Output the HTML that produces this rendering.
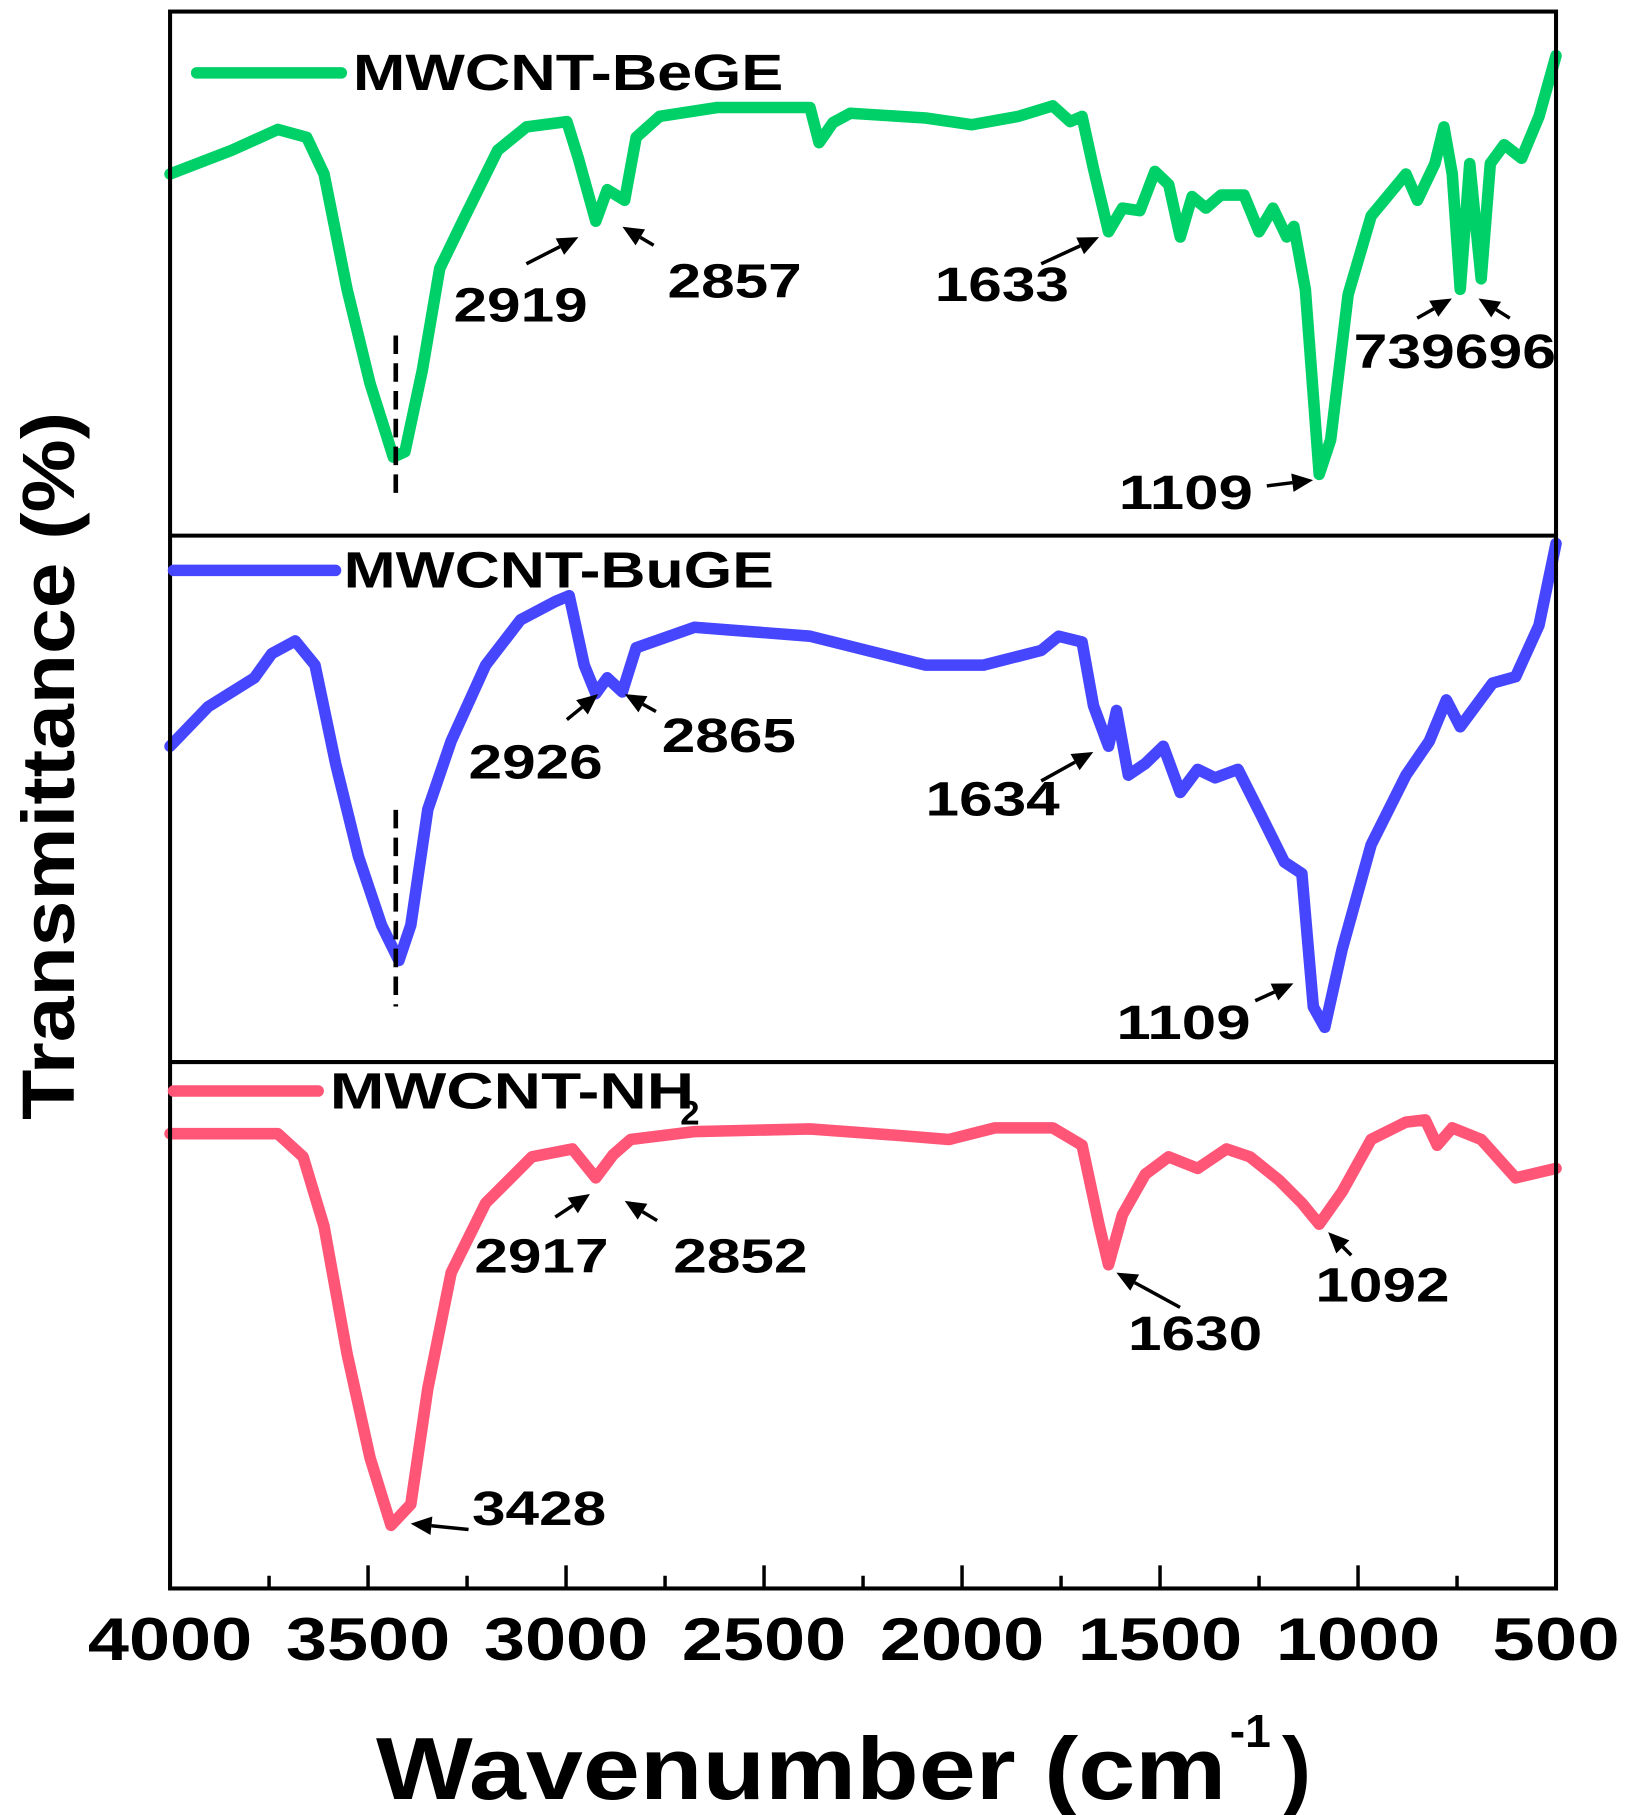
<!DOCTYPE html>
<html><head><meta charset="utf-8"><style>
html,body{margin:0;padding:0;background:#fff}
svg{display:block}
text{font-family:"Liberation Sans",Arial,sans-serif;font-weight:bold;fill:#000}
</style></head><body>
<svg id="chart" width="1631" height="1815" viewBox="0 0 1409.8 1568.8" preserveAspectRatio="none" xmlns="http://www.w3.org/2000/svg">
<g id="plot"></g>
</svg>
<script>
// ---- data ----
const xTicks = [4000,3500,3000,2500,2000,1500,1000,500];
const wBeGE = [4000,3845,3728,3655,3611,3553,3495,3436,3407,3363,3319,3261,3173,3100,2998,2969,2925,2896,2852,2823,2764,2618,2384,2361,2326,2282,2092,1975,1858,1771,1727,1697,1668,1630,1595,1551,1513,1478,1449,1419,1384,1346,1288,1250,1215,1180,1162,1133,1098,1069,1025,967,879,850,806,783,762,742,718,689,666,631,587,543,500];
const tBeGE = [69,73.5,77.5,76,69,47,29,15,16,31.5,51,60,73.5,78,79,72,60,66,64,76,80,81.7,81.7,75,78.8,80.6,79.7,78.4,80,82,79,80,70,58,62.5,62,69.5,67,57,64.7,62.5,65,65,58,62.5,57,59,47,11.7,18.3,46,61,69,64,71,78,69,47,71,49,71,74.6,72,80,91.6];
const wBuGE = [4000,3904,3787,3743,3684,3634,3582,3524,3466,3422,3392,3349,3290,3203,3115,3027,2992,2954,2925,2896,2858,2823,2676,2384,2092,1946,1800,1756,1697,1668,1630,1610,1580,1537,1492,1449,1405,1361,1303,1244,1186,1142,1113,1084,1040,967,879,820,777,742,660,602,543,500];
const tBuGE = [60,67.5,73,77.6,80,75.4,56.7,39,26,19.3,26,48,61,75.4,84,87.5,88.6,75.4,70,73,70.3,78.7,82.6,80.9,75.4,75.4,78.2,80.9,79.8,67.7,60,66.8,54.5,56.7,60,51.2,55.6,54,55.6,46.8,38,35.8,10.5,6.6,21.5,41.3,54.5,61,68.8,63.7,72,73.2,83,98.5];
const wNH2 = [4000,3728,3664,3611,3553,3495,3442,3392,3349,3290,3203,3086,2984,2925,2881,2837,2676,2384,2150,2033,1917,1771,1697,1653,1630,1595,1537,1478,1405,1332,1273,1200,1142,1098,1040,967,879,830,800,762,689,602,500];
const tNH2 = [86.4,86.4,82,68.8,44.6,24.8,12,16,38,60,73.2,82,83.5,78,82.4,85.3,86.8,87.3,86,85.3,87.5,87.5,84.2,68.8,61.5,71,78.7,82,79.8,83.5,82,77.6,73.2,69.2,75.4,85.3,88.6,89,84.2,87.5,85.3,78,79.8];

// ---- geometry ----
const L=147,R=1345,panels=[[10,463],[463,918],[918,1373]];
const xs=w=>L+(4000-w)/3500*(R-L);
const ys=(p,t)=>panels[p][1]-t/100*(panels[p][1]-panels[p][0]);
const NS='http://www.w3.org/2000/svg';
const g=document.getElementById('plot');
function mk(tag,attrs,parent){const e=document.createElementNS(NS,tag);for(const k in attrs)e.setAttribute(k,attrs[k]);(parent||g).appendChild(e);return e;}

// series
const series=[[wBeGE,tBeGE,0,'#00d068','series-mwcnt-bege'],[wBuGE,tBuGE,1,'#4646ff','series-mwcnt-buge'],[wNH2,tNH2,2,'#ff5577','series-mwcnt-nh2']];
series.forEach(s=>{
  const d=s[0].map((w,i)=>(i?'L':'M')+xs(w).toFixed(1)+','+ys(s[2],s[1][i]).toFixed(1)).join('');
  const p=mk('path',{d:d,fill:'none',stroke:s[3],'stroke-width':10,'stroke-linejoin':'round','stroke-linecap':'round'});
  
  
});

// frame
const fr=mk('rect',{x:L,y:10,width:R-L,height:1363,fill:'none',stroke:'#000','stroke-width':3.5});


[463,918].forEach(y=>{const l=mk('line',{x1:L,x2:R,y1:y,y2:y,stroke:'#000','stroke-width':3.5});

});

// ticks
for(let w=4000;w>=500;w-=250){
  const major=w%500===0;
  const t=mk('line',{x1:xs(w),x2:xs(w),y1:1373,y2:major?1353:1362,stroke:'#000','stroke-width':3});
  
  
}
xTicks.forEach(v=>{
  const last=v===500;
  const t=mk('text',{x:last?1400:xs(v),y:1435,'font-size':52,'text-anchor':last?'end':'middle',textLength:last?110:142,lengthAdjust:'spacingAndGlyphs'});
  t.textContent=v;
  
  
});

// dashed lines at 3430
[[290,430],[700,870]].forEach(r=>{const l=mk('line',{x1:xs(3430),x2:xs(3430),y1:r[0],y2:r[1],stroke:'#000','stroke-width':4,'stroke-dasharray':'16,8'});

});

// legends
const leg=[[170,295,63,305,78,'MWCNT-BeGE',372,'#00d068'],[150,290,493,297,508,'MWCNT-BuGE',372,'#4646ff'],[150,275,943,285,958,'MWCNT-NH',315,'#ff5577']];
leg.forEach((l,i)=>{
  const ln=mk('line',{x1:l[0],x2:l[1],y1:l[2],y2:l[2],stroke:l[7],'stroke-width':10,'stroke-linecap':'round'});
  
  
  const t=mk('text',{x:l[3],y:l[4],'font-size':44,textLength:l[6],lengthAdjust:'spacingAndGlyphs'});
  t.textContent=l[5];
  
  
});
const sub=mk('text',{x:588,y:972,'font-size':30});sub.textContent='2';



// annotations: label, tx, ty, textLength, arrow from, arrow to
const anns=[
 ['2919',392,278,116,455,228,500,205],['2857',577,257,116,565,212,538,196],['1633',808,260,116,900,228,950,205],
 ['739696',1170,318,175,1225,275,1255,258],['',0,0,0,1305,275,1278,258],['1109',967,440,116,1095,420,1135,415],
 ['2926',405,673,116,490,622,517,600],['2865',572,650,116,567,615,540,600],['1634',800,705,116,900,675,945,650],['1109',965,898,116,1085,865,1118,850],
 ['2917',410,1100,116,480,1052,510,1032],['2852',582,1100,116,568,1055,540,1038],['1630',975,1167,116,1020,1130,965,1100],['1092',1137,1125,116,1168,1085,1148,1065],['3428',408,1318,116,405,1322,355,1317]];
anns.forEach(a=>{
  if(a[0]){const t=mk('text',{x:a[1],y:a[2],'font-size':42,textLength:a[3],lengthAdjust:'spacingAndGlyphs'});t.textContent=a[0];
  
  }
  const x1=a[4],y1=a[5],x2=a[6],y2=a[7],ang=Math.atan2(y2-y1,x2-x1),h=18;
  const bx=x2-h*Math.cos(ang),by=y2-h*Math.sin(ang);
  const ln=mk('line',{x1:x1,y1:y1,x2:bx,y2:by,stroke:'#000','stroke-width':3});
  
  
  const px=-Math.sin(ang)*8,py=Math.cos(ang)*8;
  const hd=mk('polygon',{points:`${x2},${y2} ${bx+px},${by+py} ${bx-px},${by-py}`,fill:'#000'});
  
  
});

// axis titles
const xt=mk('text',{x:325,y:1555,'font-size':76,textLength:735,lengthAdjust:'spacingAndGlyphs'});xt.textContent='Wavenumber (cm';


const xs1=mk('text',{x:1063,y:1510,'font-size':40});xs1.textContent='-1';


const xs2=mk('text',{x:1108,y:1555,'font-size':76});xs2.textContent=')';


const yt=mk('text',{x:0,y:0,'font-size':64,transform:'translate(64,968) rotate(-90)',textLength:612,lengthAdjust:'spacingAndGlyphs'});yt.textContent='Transmittance (%)';


</script>
</body></html>
